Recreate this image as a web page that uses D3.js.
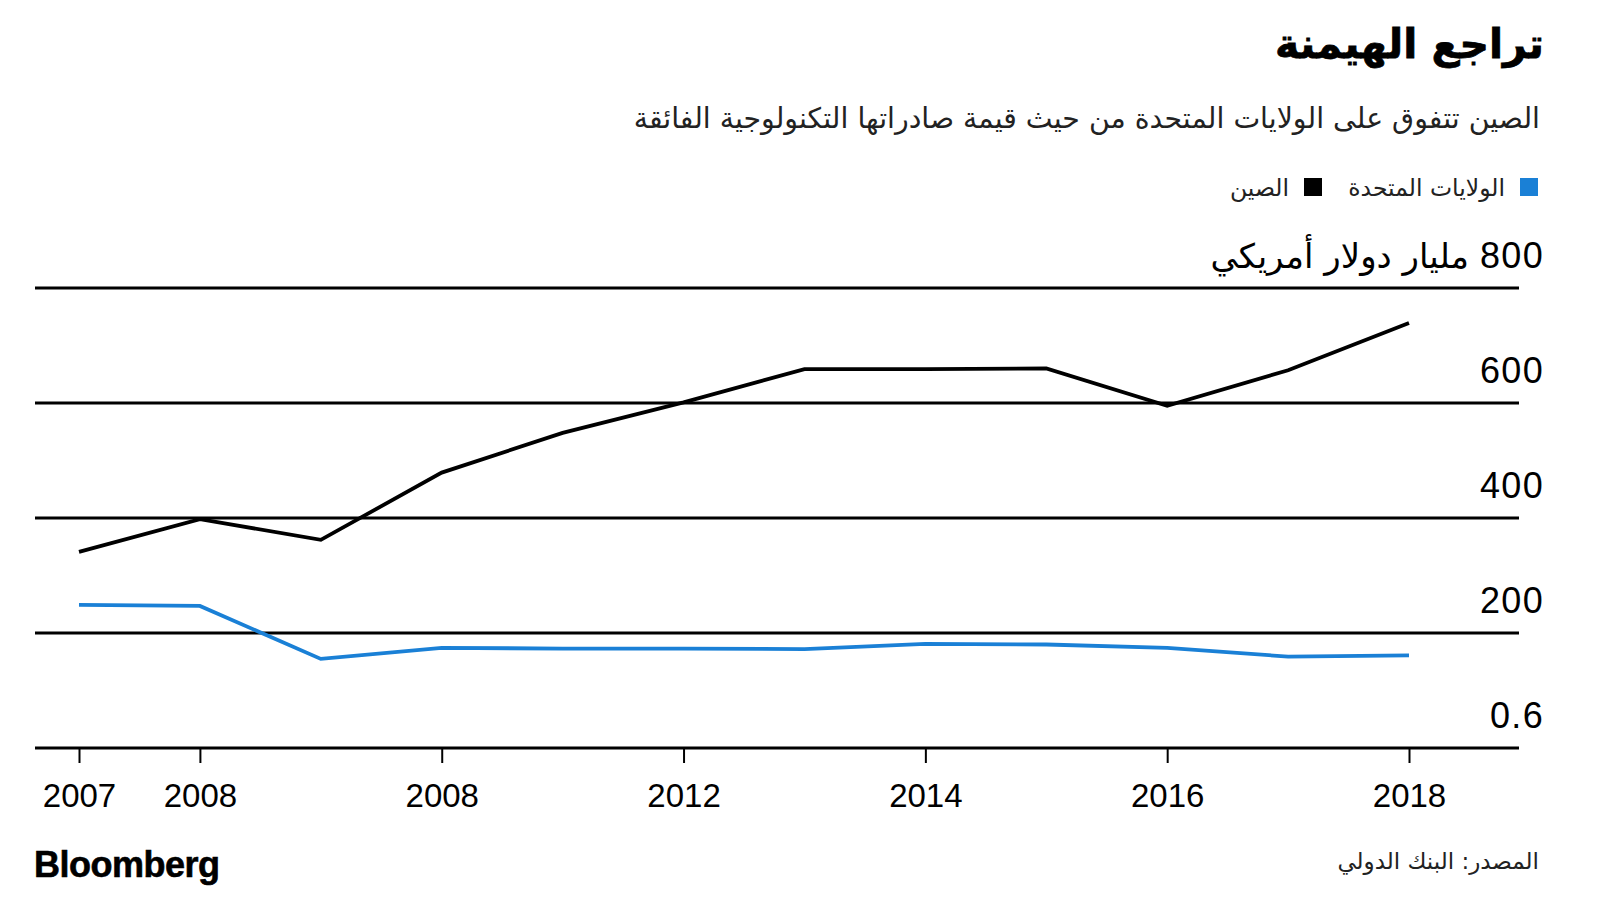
<!DOCTYPE html>
<html>
<head>
<meta charset="utf-8">
<script src="https://cdn.jsdelivr.net/npm/d3@7"></script>
<style>
  body { margin: 0; background: #fff; }
  svg { display: block; }
  .ar { font-family: "DejaVu Sans", sans-serif; }
  .num { font-family: "Liberation Sans", Arial, sans-serif; }
</style>
</head>
<body>
<div id="chart"></div>
<script>
var years = [2007, 2008, 2009, 2010, 2011, 2012, 2013, 2014, 2015, 2016, 2017, 2018];
var chinaValues = [341, 398, 362, 479, 548, 601, 659, 659, 660, 595, 657, 739];
var usValues = [249, 247, 155, 174, 173, 173, 172, 181, 180, 174, 159, 161];

var xTicks = [2007, 2008, 2010, 2012, 2014, 2016, 2018];
var xTickLabels = ["2007", "2008", "2008", "2012", "2014", "2016", "2018"];
var yTicks = [0, 200, 400, 600, 800];
var yTickLabels = ["0.6", "200", "400", "600", "800"];
var yUnit = "مليار دولار أمريكي";

var seriesNames = ["الولايات المتحدة", "الصين"];
var seriesColors = ["#1a80d6", "#000000"];

var width = 1600, height = 900,
    plotLeft = 35, plotRight = 1519, plotBottom = 748, plotTop = 288;

var svg = d3.select("#chart").append("svg")
    .attr("width", width)
    .attr("height", height);

var x = d3.scaleLinear().domain([2007, 2018]).range([79, 1409]);
var y = d3.scaleLinear().domain([0, 800]).range([plotBottom, plotTop]);

// title + subtitle
svg.append("text")
    .attr("class", "ar")
    .attr("x", 1544).attr("y", 58)
    .attr("direction", "rtl").attr("text-anchor", "start")
    .style("font-size", "41px").style("font-weight", "bold")
    .style("stroke", "#000").style("stroke-width", 0.8)
    .text("تراجع الهيمنة");

svg.append("text")
    .attr("class", "ar")
    .attr("x", 1540).attr("y", 128)
    .attr("direction", "rtl").attr("text-anchor", "start")
    .style("font-size", "28.4px").style("fill", "#222")
    .text("الصين تتفوق على الولايات المتحدة من حيث قيمة صادراتها التكنولوجية الفائقة");

// legend
var legendX = [1538, 1322];
var legend = svg.append("g").selectAll("g")
    .data(seriesNames)
    .enter().append("g");
legend.append("rect")
    .attr("x", function(d, i) { return legendX[i] - 18; })
    .attr("y", 178)
    .attr("width", 18).attr("height", 18)
    .attr("fill", function(d, i) { return seriesColors[i]; });
legend.append("text")
    .attr("class", "ar")
    .attr("x", function(d, i) { return legendX[i] - 33; })
    .attr("y", 196)
    .attr("direction", "rtl").attr("text-anchor", "start")
    .style("font-size", "23.5px").style("fill", "#222")
    .text(function(d) { return d; });

// gridlines + y labels
svg.append("g").selectAll("line")
    .data(yTicks)
    .enter().append("line")
    .attr("x1", plotLeft).attr("x2", plotRight)
    .attr("y1", function(d) { return y(d); })
    .attr("y2", function(d) { return y(d); })
    .attr("stroke", "#000").attr("stroke-width", 2.8);

var yLabels = svg.append("g").selectAll("text")
    .data(yTicks)
    .enter().append("text")
    .attr("class", "num")
    .attr("x", 1544)
    .attr("y", function(d) { return y(d) - 20; })
    .attr("text-anchor", "end")
    .style("font-size", "36px")
    .style("letter-spacing", "1.3px")
    .text(function(d, i) { return yTickLabels[i]; });

// unit next to the top label
var topLabelW = yLabels.filter(function(d) { return d === 800; }).node().getComputedTextLength();
svg.append("text")
    .attr("class", "ar")
    .attr("x", 1544 - topLabelW - 11)
    .attr("y", y(800) - 20)
    .attr("direction", "rtl").attr("text-anchor", "start")
    .style("font-size", "34px")
    .text(yUnit);

// x axis
var xAxis = d3.axisBottom(x)
    .tickValues(xTicks)
    .tickSize(15)
    .tickFormat(function(d, i) { return xTickLabels[i]; });
var gx = svg.append("g")
    .attr("transform", "translate(0," + plotBottom + ")")
    .call(xAxis);
gx.select(".domain").remove();
gx.selectAll(".tick line").attr("stroke", "#000").attr("stroke-width", 2);
gx.selectAll(".tick text")
    .attr("y", 59)
    .attr("dy", 0)
    .style("font-family", "'Liberation Sans', Arial, sans-serif")
    .style("font-size", "33px")
    .style("fill", "#000");

// lines
var line = d3.line()
    .x(function(d, i) { return x(years[i]); })
    .y(function(d) { return y(d); });

svg.append("path")
    .datum(usValues)
    .attr("fill", "none")
    .attr("stroke", seriesColors[0])
    .attr("stroke-width", 3.8)
    .attr("d", line);

svg.append("path")
    .datum(chinaValues)
    .attr("fill", "none")
    .attr("stroke", seriesColors[1])
    .attr("stroke-width", 3.8)
    .attr("d", line);

// footer
svg.append("text")
    .attr("x", 34).attr("y", 877)
    .style("font-family", "'Liberation Sans', Arial, sans-serif")
    .style("font-size", "36px").style("font-weight", "bold")
    .style("letter-spacing", "-0.5px")
    .style("stroke", "#000").style("stroke-width", 0.6)
    .text("Bloomberg");

svg.append("text")
    .attr("class", "ar")
    .attr("x", 1539).attr("y", 869)
    .attr("direction", "rtl").attr("text-anchor", "start")
    .style("font-size", "23px").style("fill", "#222")
    .text("المصدر: البنك الدولي");
</script>
</body>
</html>
